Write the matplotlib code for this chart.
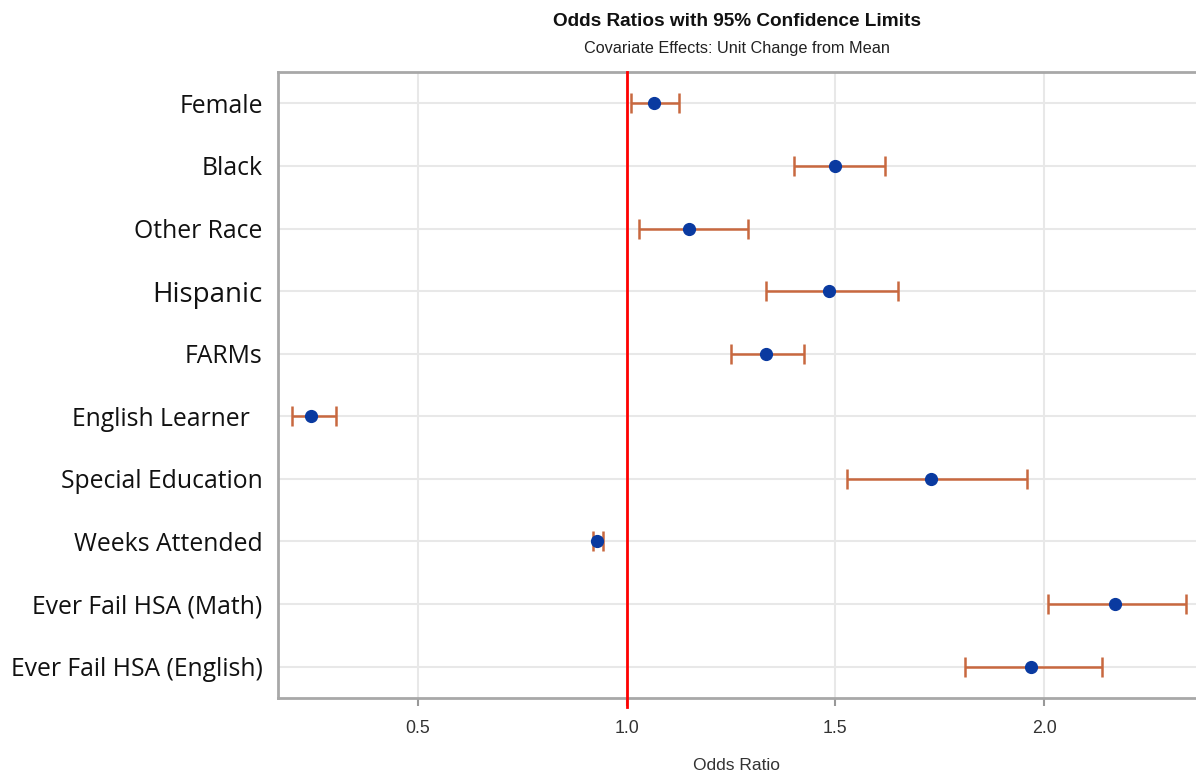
import numpy as np
import matplotlib.pyplot as plt

# covariate effects (odds ratio + 95% CI)
labels = ["Female", "Black", "Other Race", "Hispanic", "FARMs",
          "English Learner  ", "Special Education", "Weeks Attended",
          "Ever Fail HSA (Math)", "Ever Fail HSA (English)"]
odds = np.array([1.065, 1.50, 1.15, 1.485, 1.335, 0.245, 1.73, 0.93, 2.17, 1.968])
lower = np.array([1.01, 1.40, 1.03, 1.335, 1.25, 0.198, 1.527, 0.919, 2.01, 1.81])
upper = np.array([1.125, 1.62, 1.29, 1.65, 1.425, 0.303, 1.96, 0.943, 2.34, 2.14])
xticks = [0.5, 1.0, 1.5, 2.0]

fig = plt.figure(figsize=(11.96, 7.77), dpi=100)
ax = fig.add_axes([0.2324, 0.1017, 0.7676, 0.8056])

y = np.arange(len(labels))
ax.errorbar(odds, y, xerr=[odds - lower, upper - odds], fmt='none',
            ecolor='#c8683f', elinewidth=1.8, capsize=7, capthick=1.8, zorder=3)
ax.plot(odds, y, 'o', color='#0a3aa0', markersize=8.5, zorder=4)
ax.axvline(1.0, color='#ff0000', lw=2, zorder=5, ymin=-0.014, clip_on=False)

ax.set_xlim(0.165, 2.364)
ax.set_ylim(len(labels) - 0.5, -0.5)
ax.set_xticks(xticks)
ax.set_xticklabels([f"{t:.1f}" for t in xticks], fontsize=12.8, color='#333333',
                   family='Liberation Sans')
ax.set_yticks(y)
ax.set_yticklabels(labels, fontsize=17.8, family='Open Sans', color='#111111')
ax.get_yticklabels()[3].set_fontsize(20)
ax.tick_params(axis='y', length=0, pad=11)
ax.tick_params(axis='x', length=6, width=1.5, color='#999999', pad=10)

ax.grid(True, color='#e8e8e8', lw=1.5, zorder=0)
ax.set_axisbelow(True)
for s in ['left', 'bottom', 'top']:
    ax.spines[s].set_color('#a8a8a8')
    ax.spines[s].set_linewidth(2)
ax.spines['right'].set_visible(False)

ax.set_xlabel("Odds Ratio", fontsize=12.5, color='#333333', family='Liberation Sans',
              labelpad=15)
fig.text(0.616, 0.972, "Odds Ratios with 95% Confidence Limits", ha='center', va='center',
         fontsize=13.7, fontweight='bold', family='Liberation Sans', color='#111111')
fig.text(0.616, 0.937, "Covariate Effects: Unit Change from Mean", ha='center', va='center',
         fontsize=11.7, family='Liberation Sans', color='#222222')

fig.savefig("out.png", dpi=100)
